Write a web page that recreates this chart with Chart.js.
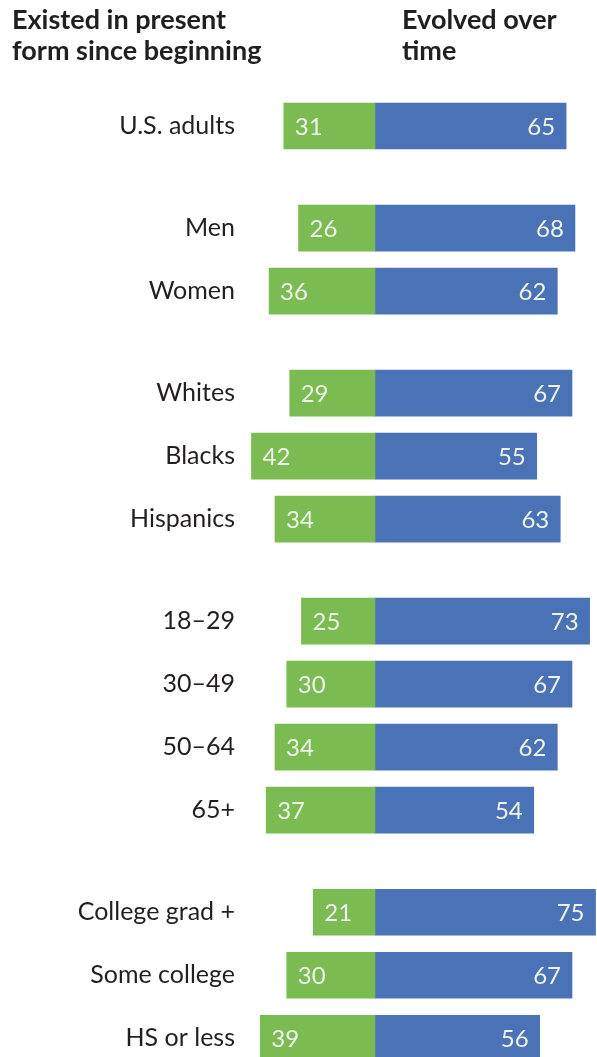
<!DOCTYPE html>
<html>
<head>
<meta charset="utf-8">
<script src="https://cdn.jsdelivr.net/npm/chart.js@4/dist/chart.umd.min.js"></script>
<style>
  html, body { margin: 0; padding: 0; background: #fff; overflow: hidden; }
  #wrap { position: relative; width: 597px; height: 1100px; }
  .head { position: absolute; font-family: Lato, "Open Sans", sans-serif; font-weight: bold;
          font-size: 27px; line-height: 31px; color: #1f1f1f; }
</style>
</head>
<body>
<div id="wrap">
  <canvas id="chart"></canvas>
  <div class="head" style="left:12px; top:3px;">Existed in present<br>form since beginning</div>
  <div class="head" style="left:402px; top:3px;">Evolved over<br>time</div>
</div>
<script>
// groups of rows, blank gap between each group
var categories = ['U.S. adults', 'Men', 'Women', 'Whites', 'Blacks', 'Hispanics',
                  '18\u201329', '30\u201349', '50\u201364', '65+', 'College grad +', 'Some college', 'HS or less'];
var groupOf = [0, 1, 1, 2, 2, 2, 3, 3, 3, 3, 4, 4, 4];
var existed = [31, 26, 36, 29, 42, 34, 25, 30, 34, 37, 21, 30, 39];
var evolved = [65, 68, 62, 67, 55, 63, 73, 67, 62, 54, 75, 67, 56];

var green = '#7ABC51';
var blue = '#4A72B6';

// row position = row index + extra gap per group
var rowPos = categories.map(function(c, i) { return i + groupOf[i] * 0.62; });

// white value labels inside the bars
var labelPlugin = {
    id: 'barLabels',
    afterDatasetsDraw: function(chart) {
        var ctx = chart.ctx;
        ctx.save();
        ctx.font = '24px Lato, "Open Sans", sans-serif';
        ctx.fillStyle = '#eef4ea';
        ctx.textBaseline = 'middle';
        chart.getDatasetMeta(0).data.forEach(function(bar, i) {
            ctx.textAlign = 'left';
            ctx.fillText(existed[i], bar.x + 11, bar.y + 1);
        });
        chart.getDatasetMeta(1).data.forEach(function(bar, i) {
            ctx.textAlign = 'right';
            ctx.fillText(evolved[i], bar.x - 11, bar.y + 1);
        });
        ctx.restore();
    }
};

var ctx = document.getElementById('chart').getContext('2d');
var chart = new Chart(ctx, {
    type: 'bar',
    data: {
        datasets: [{
            label: 'Existed in present form since beginning',
            data: existed.map(function(v, i) { return { x: -v, y: rowPos[i] }; }),
            backgroundColor: green,
            barThickness: 46,
            grouped: false
        }, {
            label: 'Evolved over time',
            data: evolved.map(function(v, i) { return { x: v, y: rowPos[i] }; }),
            backgroundColor: blue,
            barThickness: 46,
            grouped: false
        }]
    },
    options: {
        indexAxis: 'y',
        responsive: true,
        maintainAspectRatio: false,
        animation: false,
        layout: { padding: 0 },
        plugins: {
            legend: { display: false },
            tooltip: { enabled: false }
        },
        scales: {
            x: {
                type: 'linear',
                display: false,
                min: -44.2,
                max: 75.5
            },
            y: {
                type: 'linear',
                reverse: true,
                offset: false,
                min: -2,
                max: -2 + 1100 / 63,
                grid: { display: false, drawTicks: false },
                border: { display: false },
                afterBuildTicks: function(scale) {
                    scale.ticks = rowPos.map(function(p) { return { value: p }; });
                },
                afterFit: function(scale) {
                    scale.width = 245;
                    scale.paddingTop = 0;
                    scale.paddingBottom = 0;
                },
                ticks: {
                    autoSkip: false,
                    padding: 10,
                    color: '#231f20',
                    font: { family: 'Lato, "Open Sans", sans-serif', size: 25 },
                    callback: function(value, index) { return categories[index]; }
                }
            }
        }
    },
    plugins: [labelPlugin]
});
</script>
</body>
</html>
